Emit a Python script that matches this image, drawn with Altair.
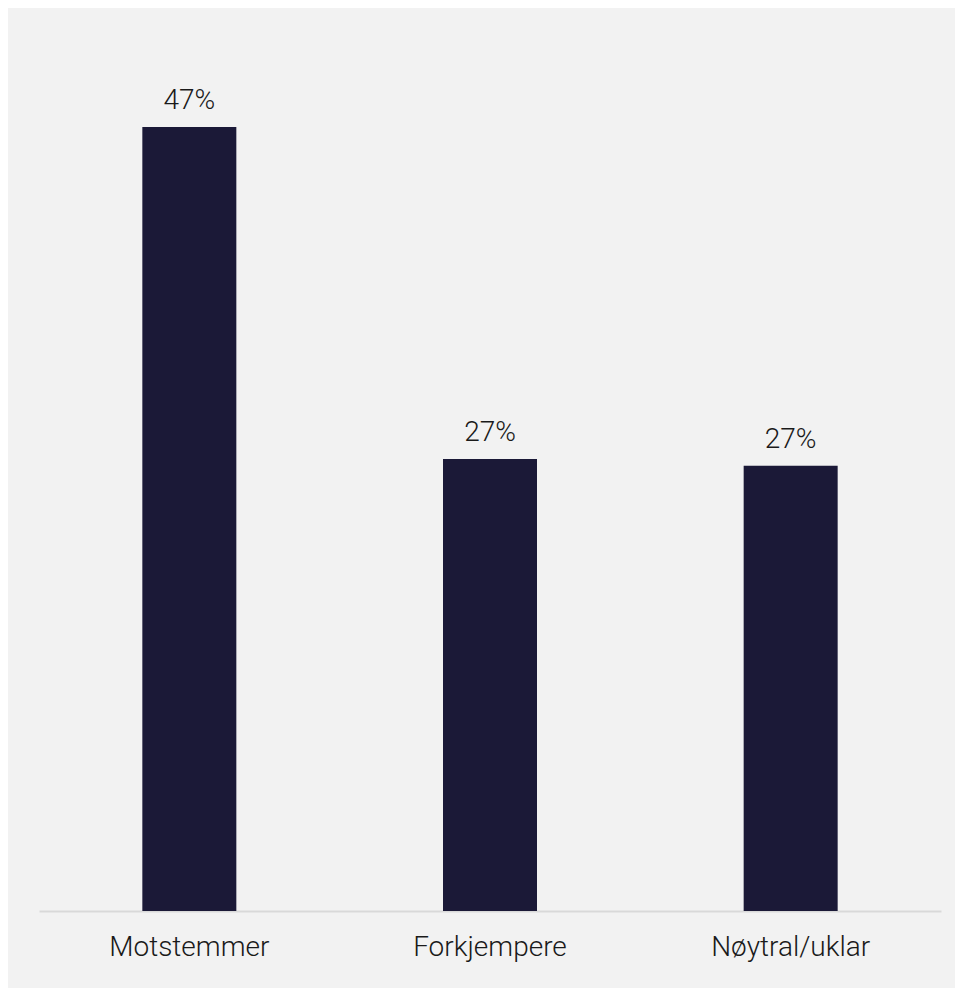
import altair as alt
import pandas as pd

categories = ["Motstemmer", "Forkjempere", "Nøytral/uklar"]
values = [47.0, 27.1, 26.7]
labels = ["47%", "27%", "27%"]

df = pd.DataFrame({"cat": categories, "val": values, "lab": labels})

x = alt.X("cat:N", sort=categories, title=None,
          scale=alt.Scale(paddingInner=0, paddingOuter=0),
          axis=alt.Axis(labelAngle=0, ticks=False, domainColor="#d9d9d9", domainWidth=2,
                        labelFont="Roboto", labelFontWeight=300, labelFontSize=28,
                        labelColor="#1a1a1a", labelPadding=22))
y = alt.Y("val:Q", title=None, scale=alt.Scale(domain=[0, 50], nice=False),
          axis=None)

bars = alt.Chart(df).mark_bar(size=94, color="#1b1937").encode(x=x, y=y)
text = alt.Chart(df).mark_text(font="Roboto", fontWeight=300, fontSize=28, color="#1a1a1a",
                               baseline="alphabetic", dy=-18).encode(x=x, y=y, text="lab:N")

chart = (bars + text).properties(
    width=902, height=834,
    background="#f2f2f2",
    padding={"left": 31, "top": 69, "right": 14, "bottom": 77},
    autosize=alt.AutoSizeParams(type="none"),
).configure_view(stroke=None)

chart.save("out.html", embed_options={"renderer": "svg", "actions": False})
